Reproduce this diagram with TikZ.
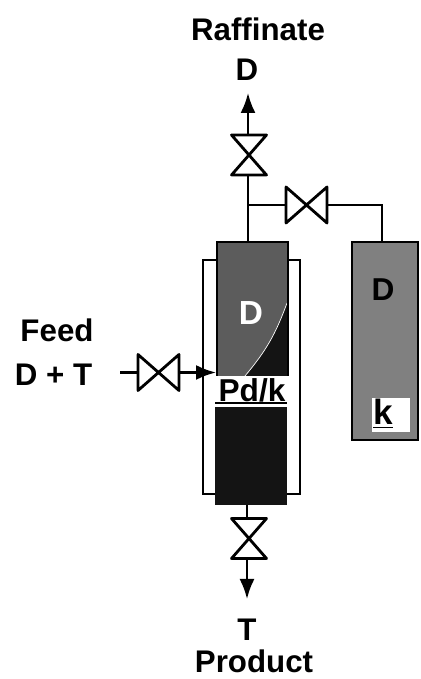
\documentclass[tikz,border=0pt]{standalone}
\usepackage{fontspec}
\setmainfont{Liberation Sans}
\usepackage{xcolor}
\usetikzlibrary{arrows.meta}
\tikzset{
  >={Latex[length=.4cm,width=.3cm]},
  pipe/.style={line width=1.3pt},
  valveline/.style={line width=1.6pt,line join=round},
  wall/.style={line width=1.5pt},
}
\tikzstyle{every node}=[font=\bfseries\fontsize{17.8}{20}\selectfont]
\definecolor{packed}{gray}{.36}
\definecolor{stored}{gray}{.5}
\definecolor{loaded}{gray}{.08}
% valve drawn as two triangles meeting at the centre
\newcommand{\vvalve}[1]{\draw[valveline] (#1)+(-.35,.4)--+(.35,.4)--+(-.35,-.4)--+(.35,-.4)--cycle;}
\newcommand{\hvalve}[1]{\draw[valveline] (#1)+(-.41,.36)--+(-.41,-.36)--+(.41,.36)--+(.41,-.36)--cycle;}
\begin{document}
\begin{tikzpicture}
    \useasboundingbox (0,0) rectangle (8.4,13.58);

    \coordinate (topvalve) at (4.98,10.48);
    \coordinate (sidevalve) at (6.13,9.48);
    \coordinate (feedvalve) at (3.17,6.13);
    \coordinate (botvalve) at (4.98,2.81);

    % jacket
    \draw[wall] (4.06,8.38) rectangle (6.0,3.7);

    % column
    \fill[packed] (4.36,8.72) rectangle (5.74,6.06);
    \fill[loaded] (5.74,7.52) to[out=-110,in=50] (4.9,6.06)--(5.74,6.06)--cycle;
    \draw[white,thin] (5.74,7.52) to[out=-110,in=50] (4.9,6.06);
    \fill[loaded] (4.3,5.44) rectangle (5.74,3.48);
    \draw[wall] (4.34,6.06)--(4.34,8.74)--(5.76,8.74)--(5.76,6.06);
    \draw[wall] (4.3,5.52)--(5.74,5.52);
    \node (pdk) at (5.04,5.78) {\fontsize{18}{20}\selectfont Pd/k};

    % reservoir
    \fill[stored] (7.04,8.74) rectangle (8.36,4.78);
    \draw[wall] (7.04,8.74) rectangle (8.36,4.78);
    \fill[white] (7.44,5.62) rectangle (8.2,4.94);
    \node (resk) at (7.66,5.3) {\fontsize{20}{22}\selectfont\underline{k}};
    \node (resd) at (7.66,7.78) {\fontsize{18}{20}\selectfont D};
    \node[text=white] (cold) at (5.02,7.32) {\fontsize{19}{21}\selectfont D};

    % piping
    \vvalve{topvalve}
    \vvalve{botvalve}
    \hvalve{sidevalve}
    \hvalve{feedvalve}
    \draw[pipe,->] (4.96,10.88)--(4.96,11.72);
    \draw[pipe] (4.96,10.08)--(4.96,8.74);
    \draw[pipe] (4.96,9.48)--(5.72,9.48);
    \draw[pipe] (6.54,9.48)--(7.64,9.48)--(7.64,8.74);
    \draw[pipe] (2.4,6.13)--(2.76,6.13);
    \draw[pipe,->] (3.58,6.13)--(4.32,6.13);
    \draw[pipe] (4.94,3.48)--(4.94,3.21);
    \draw[pipe,->] (4.94,2.41)--(4.94,1.6);

    % labels
    \node (raffinate) at (5.16,13.0) {Raffinate};
    \node (dout) at (4.94,12.18) {D};
    \node (feed) at (1.14,6.98) {Feed};
    \node (dt) at (1.07,6.08) {D + T};
    \node (tout) at (4.94,0.98) {T};
    \node (product) at (5.08,0.36) {Product};
\end{tikzpicture}
\end{document}
